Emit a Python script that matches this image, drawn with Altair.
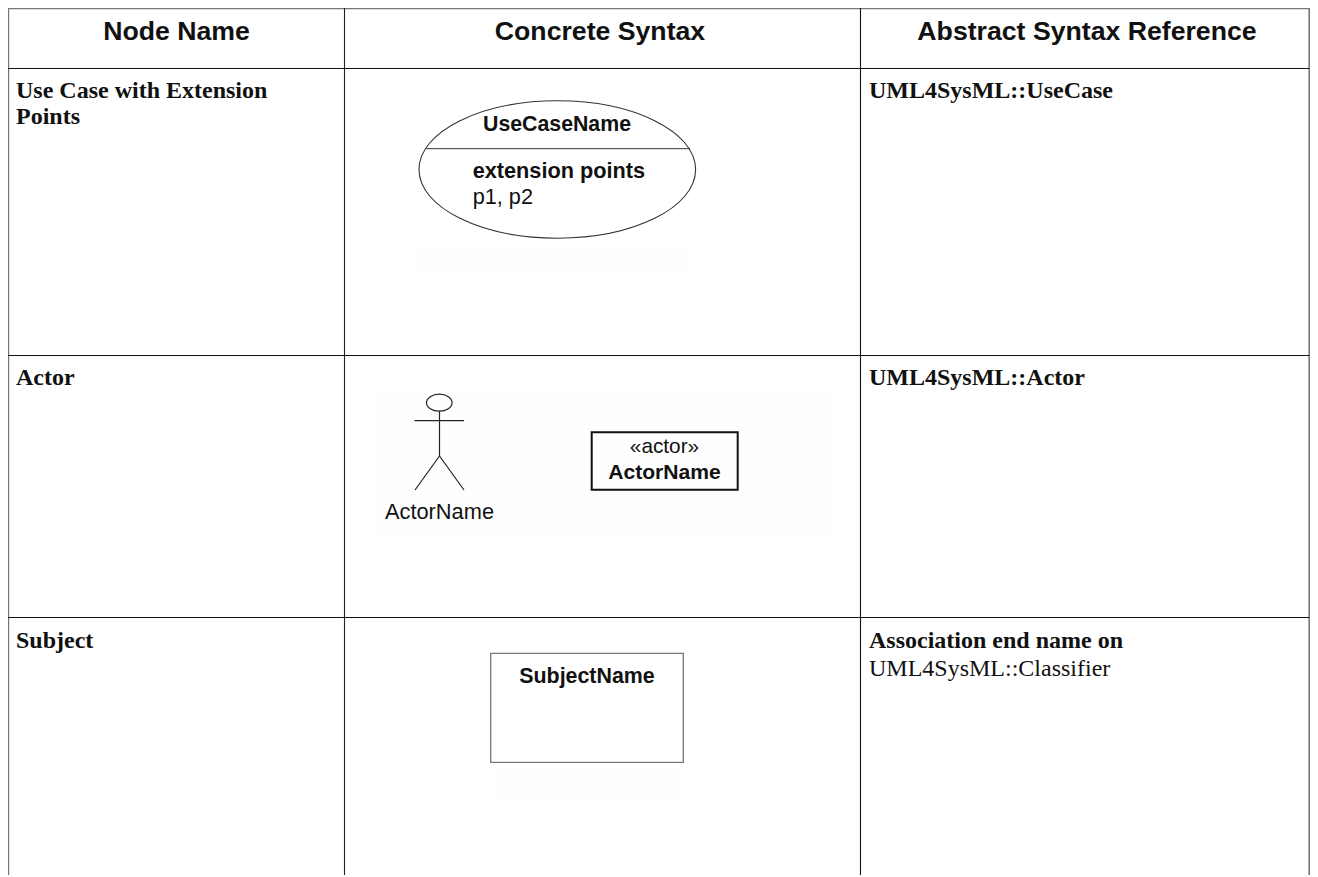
import altair as alt
import pandas as pd

X_DOMAIN = [8, 1310]
Y_DOMAIN = [875, 8]

# Faint ghost patches of the pasted images
patch_x = [418, 372, 492]
patch_x2 = [692, 835, 684]
patch_y = [245, 392, 764]
patch_y2 = [276, 536, 800]

# Table grid and straight diagram lines
line_x = [8, 8.4, 1309.2, 344.5, 860.5, 8, 8, 8,
          426, 439.5, 414.5, 439.5, 439.5]
line_x2 = [1309.2, 8.4, 1309.2, 344.5, 860.5, 1309.2, 1309.2, 1309.2,
           690, 439.5, 464, 415, 464]
line_y = [8.4, 8, 8, 8, 8, 68.5, 355.5, 617.5,
          148.7, 411, 420.7, 456, 456]
line_y2 = [8.4, 875, 875, 875, 875, 68.5, 355.5, 617.5,
           148.7, 456, 420.7, 490, 490]
line_color = ["#777777", "#777777", "#777777", "#222222", "#111111", "#111111", "#111111", "#111111",
              "#333333", "#222222", "#222222", "#222222", "#222222"]
line_width = [1.6, 1.6, 1.6, 1.1, 1.1, 1.1, 1.1, 1.1,
              1, 1.2, 1.2, 1.2, 1.2]

# Rectangles of the diagrams
box_x = [591.7, 490.7]
box_x2 = [737.7, 683.3]
box_y = [432.3, 653.3]
box_y2 = [489.7, 762.3]
box_color = ["#111111", "#777777"]
box_width = [2, 1.3]

# Ellipses
ell_x = [557.3, 439.3]
ell_y = [169.5, 402.7]
ell_rx = [138.3, 12.8]
ell_ry = [68.7, 8.5]

# Text: text, x, y, align, font, size, weight
T_SANS = "Liberation Sans"
T_SERIF = "Liberation Serif"
texts = [
    ["Node Name", 176.5, 40, "center", T_SANS, 26.67, "bold"],
    ["Concrete Syntax", 600, 40, "center", T_SANS, 26.67, "bold"],
    ["Abstract Syntax Reference", 1087, 40, "center", T_SANS, 26.67, "bold"],
    ["Use Case with Extension", 16, 98, "left", T_SERIF, 24, "bold"],
    ["Points", 16, 124, "left", T_SERIF, 24, "bold"],
    ["Actor", 16, 385, "left", T_SERIF, 24, "bold"],
    ["Subject", 16, 647.5, "left", T_SERIF, 24, "bold"],
    ["UML4SysML::UseCase", 869, 98, "left", T_SERIF, 24, "bold"],
    ["UML4SysML::Actor", 869, 385, "left", T_SERIF, 24, "bold"],
    ["Association end name on", 869, 647.5, "left", T_SERIF, 24, "bold"],
    ["UML4SysML::Classifier", 869, 676, "left", T_SERIF, 24, "normal"],
    ["UseCaseName", 557, 130.7, "center", T_SANS, 21.3, "bold"],
    ["extension points", 472.7, 178, "left", T_SANS, 21.7, "bold"],
    ["p1, p2", 472.7, 204, "left", T_SANS, 21.7, "normal"],
    ["ActorName", 385, 519, "left", T_SANS, 21.8, "normal"],
    ["«actor»", 664.5, 453, "center", T_SANS, 20.8, "normal"],
    ["ActorName", 664.5, 479, "center", T_SANS, 21.1, "bold"],
    ["SubjectName", 587, 683.3, "center", T_SANS, 21.4, "bold"],
]

xs = alt.Scale(domain=X_DOMAIN, range=[0, 1302])
ys = alt.Scale(domain=Y_DOMAIN, range=[867, 0])
X = lambda f: alt.X(f, type="quantitative", scale=xs, axis=None)
Y = lambda f: alt.Y(f, type="quantitative", scale=ys, axis=None)

patches = alt.Chart(pd.DataFrame(dict(x=patch_x, x2=patch_x2, y=patch_y, y2=patch_y2))).mark_rect(
    color="#fefefe"
).encode(x=X("x"), x2="x2", y=Y("y"), y2="y2")

lines = alt.Chart(pd.DataFrame(dict(x=line_x, x2=line_x2, y=line_y, y2=line_y2, c=line_color, w=line_width))).mark_rule().encode(
    x=X("x"), x2="x2", y=Y("y"), y2="y2",
    color=alt.Color("c:N", scale=None),
    strokeWidth=alt.StrokeWidth("w:Q", scale=None),
)

boxes = alt.Chart(pd.DataFrame(dict(x=box_x, x2=box_x2, y=box_y, y2=box_y2, c=box_color, w=box_width))).mark_rect(
    fillOpacity=0
).encode(
    x=X("x"), x2="x2", y=Y("y"), y2="y2",
    stroke=alt.Stroke("c:N", scale=None),
    strokeWidth=alt.StrokeWidth("w:Q", scale=None),
)

layers = [patches, lines, boxes]

for cx, cy, rx, ry, col, sw in zip(ell_x, ell_y, ell_rx, ell_ry, ["#333333", "#222222"], [1.1, 1.2]):
    k = ry / rx
    shape = f"M-1,0A1,{k:.4f} 0 1 1 1,0A1,{k:.4f} 0 1 1 -1,0Z"
    layers.append(
        alt.Chart(pd.DataFrame(dict(x=[cx], y=[cy]))).mark_point(
            shape=shape, size=(2 * rx) ** 2, filled=False, stroke=col, strokeWidth=sw, opacity=1
        ).encode(x=X("x"), y=Y("y"))
    )

tdf = pd.DataFrame(texts, columns=["t", "x", "y", "align", "font", "size", "weight"])
for (align, font, size, weight), g in tdf.groupby(["align", "font", "size", "weight"]):
    layers.append(
        alt.Chart(g).mark_text(
            align=align, baseline="alphabetic", font=font, fontSize=size, fontWeight=weight, color="#111111"
        ).encode(x=X("x"), y=Y("y"), text="t:N")
    )

chart = alt.layer(*layers).properties(
    width=1302, height=867, padding=0, background="white",
    autosize=alt.AutoSizeParams(type="none", contains="content"),
).configure_view(stroke=None)
chart.save("out.html", embed_options={"renderer": "svg", "actions": False})
